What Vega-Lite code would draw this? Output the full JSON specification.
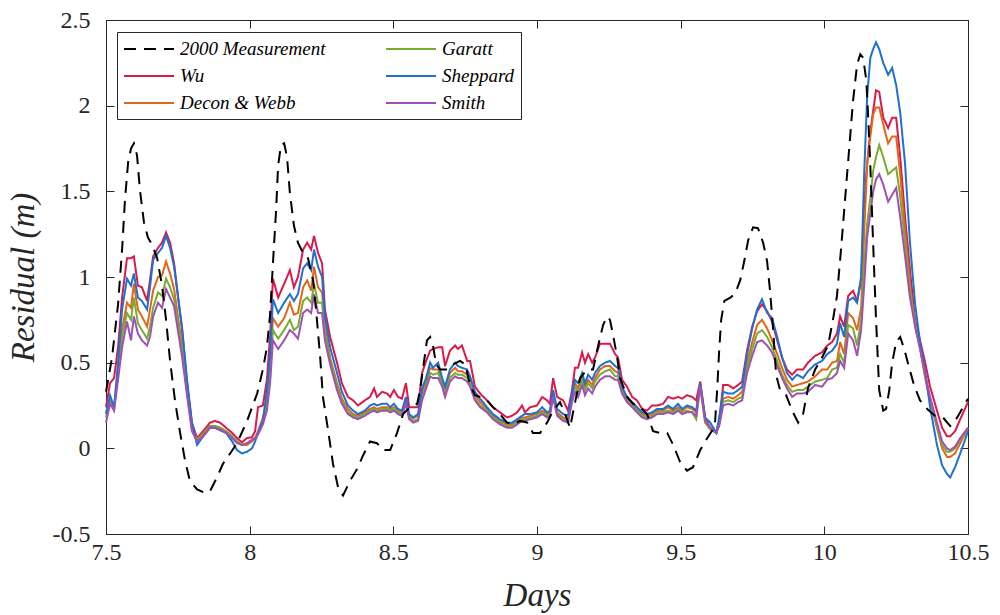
{
"$schema": "https://vega.github.io/schema/vega-lite/v6.json",
"width": 862, "height": 514,
"autosize": {"type": "none"},
"padding": {"left": 106, "top": 20, "right": 32, "bottom": 81},
"background": "white",
"config": {
 "view": {"stroke": "#262626", "strokeWidth": 1},
 "axis": {"grid": false, "domain": false, "tickColor": "#262626", "tickSize": -8, "tickWidth": 1, "labelFlush": false,
  "labelFont": "Liberation Serif", "labelFontSize": 24, "labelColor": "#262626",
  "titleFont": "Liberation Serif", "titleFontSize": 33, "titleFontStyle": "italic", "titleFontWeight": "normal", "titleColor": "#262626"}
},
"datasets": {
 "models": [
  {"day":7.500,"W":0.24,"D":0.21,"G":0.18,"S":0.20,"M":0.15},
  {"day":7.514,"W":0.38,"D":0.28,"G":0.27,"S":0.31,"M":0.26},
  {"day":7.528,"W":0.41,"D":0.23,"G":0.23,"S":0.24,"M":0.22},
  {"day":7.542,"W":0.59,"D":0.46,"G":0.44,"S":0.50,"M":0.40},
  {"day":7.556,"W":0.88,"D":0.69,"G":0.65,"S":0.81,"M":0.59},
  {"day":7.573,"W":1.11,"D":0.85,"G":0.79,"S":0.99,"M":0.74},
  {"day":7.587,"W":1.11,"D":0.82,"G":0.75,"S":0.95,"M":0.63},
  {"day":7.597,"W":1.12,"D":0.96,"G":0.88,"S":1.02,"M":0.77},
  {"day":7.611,"W":0.95,"D":0.81,"G":0.73,"S":0.88,"M":0.67},
  {"day":7.625,"W":0.94,"D":0.77,"G":0.69,"S":0.86,"M":0.63},
  {"day":7.643,"W":0.86,"D":0.71,"G":0.64,"S":0.81,"M":0.60},
  {"day":7.653,"W":0.98,"D":0.81,"G":0.71,"S":0.94,"M":0.65},
  {"day":7.664,"W":1.12,"D":0.92,"G":0.82,"S":1.10,"M":0.77},
  {"day":7.681,"W":1.17,"D":1.00,"G":0.91,"S":1.14,"M":0.85},
  {"day":7.695,"W":1.20,"D":1.01,"G":0.89,"S":1.17,"M":0.82},
  {"day":7.709,"W":1.26,"D":1.09,"G":0.99,"S":1.24,"M":0.93},
  {"day":7.723,"W":1.20,"D":1.02,"G":0.94,"S":1.17,"M":0.88},
  {"day":7.737,"W":1.08,"D":0.93,"G":0.87,"S":1.06,"M":0.83},
  {"day":7.751,"W":0.88,"D":0.76,"G":0.72,"S":0.88,"M":0.68},
  {"day":7.765,"W":0.69,"D":0.60,"G":0.57,"S":0.70,"M":0.53},
  {"day":7.782,"W":0.38,"D":0.36,"G":0.33,"S":0.40,"M":0.31},
  {"day":7.799,"W":0.15,"D":0.12,"G":0.11,"S":0.15,"M":0.10},
  {"day":7.817,"W":0.06,"D":0.05,"G":0.05,"S":0.02,"M":0.04},
  {"day":7.838,"W":0.10,"D":0.09,"G":0.08,"S":0.07,"M":0.07},
  {"day":7.862,"W":0.15,"D":0.13,"G":0.13,"S":0.12,"M":0.12},
  {"day":7.879,"W":0.16,"D":0.13,"G":0.13,"S":0.12,"M":0.12},
  {"day":7.897,"W":0.15,"D":0.12,"G":0.12,"S":0.105,"M":0.11},
  {"day":7.918,"W":0.12,"D":0.10,"G":0.10,"S":0.09,"M":0.09},
  {"day":7.939,"W":0.09,"D":0.07,"G":0.07,"S":0.04,"M":0.06},
  {"day":7.956,"W":0.06,"D":0.04,"G":0.04,"S":-0.01,"M":0.03},
  {"day":7.973,"W":0.035,"D":0.02,"G":0.02,"S":-0.03,"M":0.02},
  {"day":7.991,"W":0.06,"D":0.02,"G":0.03,"S":-0.02,"M":0.03},
  {"day":8.008,"W":0.065,"D":0.04,"G":0.05,"S":0.00,"M":0.05},
  {"day":8.019,"W":0.10,"D":0.06,"G":0.06,"S":0.04,"M":0.06},
  {"day":8.029,"W":0.24,"D":0.10,"G":0.09,"S":0.09,"M":0.08},
  {"day":8.046,"W":0.25,"D":0.18,"G":0.15,"S":0.16,"M":0.14},
  {"day":8.060,"W":0.40,"D":0.28,"G":0.25,"S":0.34,"M":0.22},
  {"day":8.071,"W":0.65,"D":0.46,"G":0.42,"S":0.55,"M":0.38},
  {"day":8.081,"W":0.99,"D":0.76,"G":0.69,"S":0.87,"M":0.63},
  {"day":8.099,"W":0.88,"D":0.71,"G":0.64,"S":0.79,"M":0.58},
  {"day":8.120,"W":0.96,"D":0.76,"G":0.69,"S":0.85,"M":0.63},
  {"day":8.140,"W":1.04,"D":0.85,"G":0.75,"S":0.90,"M":0.69},
  {"day":8.154,"W":0.94,"D":0.78,"G":0.69,"S":0.86,"M":0.67},
  {"day":8.168,"W":1.00,"D":0.79,"G":0.71,"S":0.90,"M":0.64},
  {"day":8.186,"W":1.16,"D":0.94,"G":0.86,"S":1.05,"M":0.79},
  {"day":8.200,"W":1.20,"D":0.98,"G":0.88,"S":1.08,"M":0.81},
  {"day":8.214,"W":1.16,"D":0.92,"G":0.85,"S":1.04,"M":0.79},
  {"day":8.224,"W":1.24,"D":1.06,"G":0.96,"S":1.16,"M":0.90},
  {"day":8.238,"W":1.14,"D":0.94,"G":0.85,"S":1.06,"M":0.79},
  {"day":8.252,"W":1.08,"D":0.91,"G":0.85,"S":1.00,"M":0.79},
  {"day":8.262,"W":0.81,"D":0.71,"G":0.67,"S":0.77,"M":0.63},
  {"day":8.280,"W":0.65,"D":0.53,"G":0.51,"S":0.59,"M":0.49},
  {"day":8.304,"W":0.50,"D":0.38,"G":0.36,"S":0.44,"M":0.34},
  {"day":8.321,"W":0.38,"D":0.29,"G":0.27,"S":0.33,"M":0.26},
  {"day":8.342,"W":0.30,"D":0.23,"G":0.21,"S":0.25,"M":0.20},
  {"day":8.360,"W":0.28,"D":0.20,"G":0.19,"S":0.22,"M":0.18},
  {"day":8.377,"W":0.25,"D":0.19,"G":0.18,"S":0.20,"M":0.17},
  {"day":8.401,"W":0.28,"D":0.21,"G":0.20,"S":0.22,"M":0.19},
  {"day":8.419,"W":0.30,"D":0.23,"G":0.22,"S":0.25,"M":0.21},
  {"day":8.433,"W":0.35,"D":0.24,"G":0.23,"S":0.26,"M":0.22},
  {"day":8.443,"W":0.30,"D":0.23,"G":0.22,"S":0.25,"M":0.21},
  {"day":8.461,"W":0.33,"D":0.24,"G":0.23,"S":0.26,"M":0.22},
  {"day":8.478,"W":0.32,"D":0.24,"G":0.23,"S":0.26,"M":0.22},
  {"day":8.489,"W":0.30,"D":0.23,"G":0.22,"S":0.24,"M":0.21},
  {"day":8.502,"W":0.34,"D":0.24,"G":0.23,"S":0.26,"M":0.22},
  {"day":8.516,"W":0.30,"D":0.22,"G":0.21,"S":0.23,"M":0.20},
  {"day":8.530,"W":0.29,"D":0.21,"G":0.20,"S":0.22,"M":0.19},
  {"day":8.544,"W":0.38,"D":0.28,"G":0.27,"S":0.30,"M":0.26},
  {"day":8.555,"W":0.24,"D":0.19,"G":0.18,"S":0.20,"M":0.17},
  {"day":8.569,"W":0.24,"D":0.175,"G":0.16,"S":0.18,"M":0.15},
  {"day":8.586,"W":0.24,"D":0.19,"G":0.17,"S":0.20,"M":0.16},
  {"day":8.600,"W":0.44,"D":0.32,"G":0.30,"S":0.35,"M":0.28},
  {"day":8.614,"W":0.51,"D":0.39,"G":0.37,"S":0.41,"M":0.35},
  {"day":8.628,"W":0.57,"D":0.47,"G":0.44,"S":0.50,"M":0.42},
  {"day":8.638,"W":0.58,"D":0.46,"G":0.43,"S":0.47,"M":0.41},
  {"day":8.656,"W":0.59,"D":0.46,"G":0.44,"S":0.50,"M":0.41},
  {"day":8.670,"W":0.59,"D":0.40,"G":0.38,"S":0.41,"M":0.36},
  {"day":8.680,"W":0.48,"D":0.34,"G":0.32,"S":0.36,"M":0.30},
  {"day":8.697,"W":0.57,"D":0.44,"G":0.41,"S":0.46,"M":0.39},
  {"day":8.715,"W":0.60,"D":0.47,"G":0.44,"S":0.50,"M":0.42},
  {"day":8.725,"W":0.58,"D":0.45,"G":0.43,"S":0.48,"M":0.41},
  {"day":8.739,"W":0.60,"D":0.45,"G":0.43,"S":0.47,"M":0.41},
  {"day":8.757,"W":0.51,"D":0.43,"G":0.41,"S":0.46,"M":0.39},
  {"day":8.767,"W":0.51,"D":0.40,"G":0.38,"S":0.42,"M":0.36},
  {"day":8.784,"W":0.36,"D":0.31,"G":0.29,"S":0.33,"M":0.28},
  {"day":8.802,"W":0.32,"D":0.27,"G":0.25,"S":0.29,"M":0.24},
  {"day":8.826,"W":0.28,"D":0.23,"G":0.22,"S":0.24,"M":0.21},
  {"day":8.847,"W":0.24,"D":0.19,"G":0.18,"S":0.20,"M":0.17},
  {"day":8.871,"W":0.21,"D":0.16,"G":0.15,"S":0.17,"M":0.14},
  {"day":8.896,"W":0.18,"D":0.14,"G":0.13,"S":0.15,"M":0.12},
  {"day":8.913,"W":0.19,"D":0.14,"G":0.13,"S":0.15,"M":0.12},
  {"day":8.931,"W":0.21,"D":0.16,"G":0.15,"S":0.17,"M":0.14},
  {"day":8.948,"W":0.25,"D":0.18,"G":0.17,"S":0.19,"M":0.16},
  {"day":8.958,"W":0.21,"D":0.18,"G":0.17,"S":0.20,"M":0.16},
  {"day":8.976,"W":0.24,"D":0.19,"G":0.18,"S":0.20,"M":0.17},
  {"day":9.000,"W":0.25,"D":0.20,"G":0.19,"S":0.21,"M":0.18},
  {"day":9.018,"W":0.30,"D":0.22,"G":0.21,"S":0.24,"M":0.20},
  {"day":9.035,"W":0.28,"D":0.20,"G":0.19,"S":0.21,"M":0.18},
  {"day":9.045,"W":0.26,"D":0.21,"G":0.20,"S":0.22,"M":0.19},
  {"day":9.056,"W":0.41,"D":0.32,"G":0.31,"S":0.34,"M":0.30},
  {"day":9.070,"W":0.30,"D":0.21,"G":0.20,"S":0.23,"M":0.19},
  {"day":9.091,"W":0.28,"D":0.18,"G":0.17,"S":0.20,"M":0.16},
  {"day":9.108,"W":0.22,"D":0.17,"G":0.16,"S":0.19,"M":0.15},
  {"day":9.122,"W":0.34,"D":0.30,"G":0.28,"S":0.32,"M":0.27},
  {"day":9.132,"W":0.47,"D":0.38,"G":0.36,"S":0.40,"M":0.33},
  {"day":9.143,"W":0.47,"D":0.35,"G":0.33,"S":0.38,"M":0.30},
  {"day":9.157,"W":0.56,"D":0.42,"G":0.40,"S":0.44,"M":0.37},
  {"day":9.167,"W":0.50,"D":0.36,"G":0.34,"S":0.38,"M":0.31},
  {"day":9.178,"W":0.55,"D":0.40,"G":0.38,"S":0.43,"M":0.35},
  {"day":9.192,"W":0.50,"D":0.37,"G":0.35,"S":0.40,"M":0.32},
  {"day":9.202,"W":0.53,"D":0.41,"G":0.39,"S":0.44,"M":0.36},
  {"day":9.219,"W":0.61,"D":0.46,"G":0.43,"S":0.48,"M":0.40},
  {"day":9.237,"W":0.61,"D":0.48,"G":0.45,"S":0.50,"M":0.42},
  {"day":9.254,"W":0.61,"D":0.48,"G":0.46,"S":0.51,"M":0.42},
  {"day":9.272,"W":0.55,"D":0.45,"G":0.42,"S":0.48,"M":0.40},
  {"day":9.282,"W":0.53,"D":0.44,"G":0.42,"S":0.47,"M":0.40},
  {"day":9.296,"W":0.40,"D":0.34,"G":0.33,"S":0.36,"M":0.32},
  {"day":9.313,"W":0.36,"D":0.29,"G":0.28,"S":0.30,"M":0.27},
  {"day":9.331,"W":0.30,"D":0.26,"G":0.25,"S":0.27,"M":0.24},
  {"day":9.348,"W":0.28,"D":0.23,"G":0.22,"S":0.24,"M":0.21},
  {"day":9.366,"W":0.23,"D":0.20,"G":0.19,"S":0.21,"M":0.18},
  {"day":9.383,"W":0.22,"D":0.19,"G":0.18,"S":0.20,"M":0.17},
  {"day":9.400,"W":0.25,"D":0.20,"G":0.19,"S":0.21,"M":0.18},
  {"day":9.418,"W":0.25,"D":0.22,"G":0.21,"S":0.23,"M":0.20},
  {"day":9.439,"W":0.26,"D":0.22,"G":0.21,"S":0.23,"M":0.20},
  {"day":9.456,"W":0.30,"D":0.24,"G":0.22,"S":0.25,"M":0.21},
  {"day":9.474,"W":0.29,"D":0.22,"G":0.21,"S":0.23,"M":0.20},
  {"day":9.491,"W":0.30,"D":0.24,"G":0.23,"S":0.26,"M":0.22},
  {"day":9.505,"W":0.29,"D":0.22,"G":0.21,"S":0.23,"M":0.20},
  {"day":9.522,"W":0.31,"D":0.24,"G":0.22,"S":0.25,"M":0.21},
  {"day":9.540,"W":0.30,"D":0.23,"G":0.21,"S":0.24,"M":0.21},
  {"day":9.554,"W":0.28,"D":0.21,"G":0.17,"S":0.22,"M":0.19},
  {"day":9.568,"W":0.39,"D":0.37,"G":0.36,"S":0.38,"M":0.37},
  {"day":9.585,"W":0.18,"D":0.17,"G":0.15,"S":0.18,"M":0.16},
  {"day":9.603,"W":0.12,"D":0.12,"G":0.11,"S":0.15,"M":0.12},
  {"day":9.624,"W":0.09,"D":0.09,"G":0.09,"S":0.09,"M":0.09},
  {"day":9.634,"W":0.16,"D":0.15,"G":0.14,"S":0.18,"M":0.13},
  {"day":9.648,"W":0.37,"D":0.29,"G":0.27,"S":0.33,"M":0.25},
  {"day":9.665,"W":0.37,"D":0.30,"G":0.28,"S":0.32,"M":0.26},
  {"day":9.683,"W":0.35,"D":0.29,"G":0.27,"S":0.32,"M":0.25},
  {"day":9.700,"W":0.37,"D":0.31,"G":0.29,"S":0.34,"M":0.27},
  {"day":9.714,"W":0.39,"D":0.33,"G":0.30,"S":0.36,"M":0.28},
  {"day":9.731,"W":0.57,"D":0.50,"G":0.47,"S":0.55,"M":0.44},
  {"day":9.749,"W":0.71,"D":0.62,"G":0.58,"S":0.70,"M":0.54},
  {"day":9.766,"W":0.80,"D":0.72,"G":0.67,"S":0.81,"M":0.62},
  {"day":9.783,"W":0.84,"D":0.75,"G":0.69,"S":0.87,"M":0.63},
  {"day":9.801,"W":0.80,"D":0.70,"G":0.65,"S":0.79,"M":0.60},
  {"day":9.818,"W":0.74,"D":0.63,"G":0.59,"S":0.76,"M":0.56},
  {"day":9.836,"W":0.63,"D":0.55,"G":0.51,"S":0.65,"M":0.48},
  {"day":9.853,"W":0.53,"D":0.47,"G":0.43,"S":0.53,"M":0.41},
  {"day":9.870,"W":0.46,"D":0.40,"G":0.37,"S":0.44,"M":0.35},
  {"day":9.888,"W":0.43,"D":0.36,"G":0.33,"S":0.40,"M":0.30},
  {"day":9.905,"W":0.46,"D":0.37,"G":0.34,"S":0.43,"M":0.32},
  {"day":9.926,"W":0.46,"D":0.38,"G":0.34,"S":0.41,"M":0.32},
  {"day":9.943,"W":0.50,"D":0.39,"G":0.36,"S":0.45,"M":0.33},
  {"day":9.968,"W":0.54,"D":0.42,"G":0.39,"S":0.49,"M":0.37},
  {"day":9.992,"W":0.56,"D":0.46,"G":0.40,"S":0.51,"M":0.36},
  {"day":10.010,"W":0.60,"D":0.46,"G":0.41,"S":0.55,"M":0.40},
  {"day":10.027,"W":0.62,"D":0.50,"G":0.46,"S":0.57,"M":0.41},
  {"day":10.044,"W":0.67,"D":0.51,"G":0.47,"S":0.61,"M":0.44},
  {"day":10.055,"W":0.77,"D":0.62,"G":0.55,"S":0.73,"M":0.51},
  {"day":10.069,"W":0.71,"D":0.55,"G":0.50,"S":0.65,"M":0.47},
  {"day":10.083,"W":0.89,"D":0.79,"G":0.72,"S":0.86,"M":0.67},
  {"day":10.100,"W":0.92,"D":0.76,"G":0.70,"S":0.88,"M":0.63},
  {"day":10.114,"W":0.86,"D":0.69,"G":0.60,"S":0.85,"M":0.54},
  {"day":10.128,"W":0.98,"D":0.82,"G":0.75,"S":1.00,"M":0.69},
  {"day":10.139,"W":1.42,"D":1.27,"G":1.08,"S":1.62,"M":0.96},
  {"day":10.149,"W":1.66,"D":1.66,"G":1.31,"S":2.05,"M":1.23},
  {"day":10.160,"W":1.85,"D":1.82,"G":1.46,"S":2.28,"M":1.37},
  {"day":10.170,"W":1.97,"D":1.95,"G":1.62,"S":2.33,"M":1.50},
  {"day":10.180,"W":2.09,"D":1.99,"G":1.70,"S":2.37,"M":1.57},
  {"day":10.191,"W":2.08,"D":1.99,"G":1.77,"S":2.33,"M":1.60},
  {"day":10.205,"W":1.93,"D":1.89,"G":1.70,"S":2.25,"M":1.54},
  {"day":10.222,"W":1.87,"D":1.78,"G":1.60,"S":2.18,"M":1.44},
  {"day":10.236,"W":1.93,"D":1.82,"G":1.62,"S":2.22,"M":1.48},
  {"day":10.250,"W":1.93,"D":1.82,"G":1.64,"S":2.12,"M":1.52},
  {"day":10.264,"W":1.70,"D":1.60,"G":1.47,"S":1.96,"M":1.35},
  {"day":10.281,"W":1.35,"D":1.27,"G":1.20,"S":1.66,"M":1.12},
  {"day":10.298,"W":1.04,"D":0.96,"G":0.92,"S":1.20,"M":0.88},
  {"day":10.316,"W":0.75,"D":0.71,"G":0.73,"S":0.84,"M":0.71},
  {"day":10.333,"W":0.63,"D":0.59,"G":0.59,"S":0.62,"M":0.58},
  {"day":10.351,"W":0.50,"D":0.41,"G":0.42,"S":0.45,"M":0.43},
  {"day":10.368,"W":0.36,"D":0.28,"G":0.29,"S":0.24,"M":0.30},
  {"day":10.392,"W":0.22,"D":0.12,"G":0.13,"S":0.02,"M":0.15},
  {"day":10.410,"W":0.12,"D":0.00,"G":0.02,"S":-0.10,"M":0.04},
  {"day":10.427,"W":0.07,"D":-0.05,"G":-0.02,"S":-0.15,"M":0.00},
  {"day":10.438,"W":0.07,"D":-0.05,"G":-0.02,"S":-0.17,"M":-0.01},
  {"day":10.455,"W":0.10,"D":-0.03,"G":0.00,"S":-0.11,"M":0.01},
  {"day":10.473,"W":0.17,"D":0.03,"G":0.05,"S":-0.03,"M":0.06},
  {"day":10.500,"W":0.27,"D":0.12,"G":0.12,"S":0.10,"M":0.12}
 ],
 "meas": [
  {"day":7.500,"X":0.33},{"day":7.521,"X":0.53},{"day":7.542,"X":0.84},{"day":7.556,"X":1.16},{"day":7.566,"X":1.45},
  {"day":7.577,"X":1.67},{"day":7.587,"X":1.75},{"day":7.597,"X":1.78},{"day":7.608,"X":1.71},{"day":7.618,"X":1.51},
  {"day":7.632,"X":1.32},{"day":7.646,"X":1.23},{"day":7.660,"X":1.19},{"day":7.678,"X":1.11},{"day":7.695,"X":0.95},
  {"day":7.709,"X":0.75},{"day":7.723,"X":0.51},{"day":7.740,"X":0.28},{"day":7.758,"X":0.09},{"day":7.775,"X":-0.07},
  {"day":7.792,"X":-0.19},{"day":7.817,"X":-0.24},{"day":7.845,"X":-0.26},{"day":7.862,"X":-0.25},{"day":7.886,"X":-0.17},
  {"day":7.907,"X":-0.09},{"day":7.932,"X":-0.03},{"day":7.956,"X":0.03},{"day":7.991,"X":0.16},{"day":8.026,"X":0.32},
  {"day":8.046,"X":0.46},{"day":8.060,"X":0.59},{"day":8.071,"X":0.78},{"day":8.081,"X":1.08},{"day":8.092,"X":1.39},
  {"day":8.099,"X":1.65},{"day":8.109,"X":1.77},{"day":8.120,"X":1.78},{"day":8.130,"X":1.70},{"day":8.140,"X":1.49},
  {"day":8.154,"X":1.30},{"day":8.168,"X":1.20},{"day":8.186,"X":1.14},{"day":8.203,"X":1.11},{"day":8.221,"X":0.98},
  {"day":8.231,"X":0.81},{"day":8.245,"X":0.54},{"day":8.255,"X":0.30},{"day":8.273,"X":0.105},{"day":8.290,"X":-0.09},
  {"day":8.308,"X":-0.23},{"day":8.325,"X":-0.275},{"day":8.349,"X":-0.19},{"day":8.374,"X":-0.12},{"day":8.395,"X":-0.04},
  {"day":8.419,"X":0.04},{"day":8.443,"X":0.03},{"day":8.464,"X":-0.01},{"day":8.489,"X":-0.01},{"day":8.513,"X":0.09},
  {"day":8.534,"X":0.20},{"day":8.558,"X":0.24},{"day":8.583,"X":0.26},{"day":8.593,"X":0.34},{"day":8.603,"X":0.46},
  {"day":8.617,"X":0.63},{"day":8.628,"X":0.65},{"day":8.638,"X":0.60},{"day":8.649,"X":0.49},{"day":8.663,"X":0.46},
  {"day":8.687,"X":0.46},{"day":8.708,"X":0.49},{"day":8.732,"X":0.51},{"day":8.750,"X":0.49},{"day":8.767,"X":0.37},
  {"day":8.784,"X":0.31},{"day":8.802,"X":0.30},{"day":8.826,"X":0.28},{"day":8.847,"X":0.24},{"day":8.871,"X":0.20},
  {"day":8.896,"X":0.15},{"day":8.917,"X":0.14},{"day":8.941,"X":0.16},{"day":8.966,"X":0.15},{"day":8.986,"X":0.09},
  {"day":9.011,"X":0.09},{"day":9.035,"X":0.15},{"day":9.056,"X":0.22},{"day":9.080,"X":0.27},{"day":9.098,"X":0.20},
  {"day":9.115,"X":0.12},{"day":9.129,"X":0.24},{"day":9.150,"X":0.41},{"day":9.174,"X":0.46},{"day":9.195,"X":0.46},
  {"day":9.213,"X":0.60},{"day":9.230,"X":0.72},{"day":9.244,"X":0.77},{"day":9.254,"X":0.75},{"day":9.265,"X":0.66},
  {"day":9.279,"X":0.53},{"day":9.289,"X":0.41},{"day":9.314,"X":0.30},{"day":9.334,"X":0.26},{"day":9.359,"X":0.24},
  {"day":9.383,"X":0.20},{"day":9.404,"X":0.10},{"day":9.428,"X":0.09},{"day":9.453,"X":0.09},{"day":9.474,"X":0.02},
  {"day":9.498,"X":-0.08},{"day":9.522,"X":-0.13},{"day":9.543,"X":-0.11},{"day":9.568,"X":-0.01},{"day":9.589,"X":0.05},
  {"day":9.610,"X":0.105},{"day":9.620,"X":0.16},{"day":9.627,"X":0.34},{"day":9.634,"X":0.57},{"day":9.641,"X":0.75},
  {"day":9.652,"X":0.86},{"day":9.673,"X":0.88},{"day":9.690,"X":0.905},{"day":9.707,"X":0.98},{"day":9.721,"X":1.09},
  {"day":9.735,"X":1.215},{"day":9.752,"X":1.29},{"day":9.769,"X":1.285},{"day":9.787,"X":1.20},{"day":9.801,"X":1.09},
  {"day":9.811,"X":0.92},{"day":9.822,"X":0.69},{"day":9.832,"X":0.43},{"day":9.846,"X":0.34},{"day":9.867,"X":0.31},
  {"day":9.888,"X":0.22},{"day":9.909,"X":0.15},{"day":9.926,"X":0.20},{"day":9.943,"X":0.35},{"day":9.968,"X":0.46},
  {"day":9.992,"X":0.53},{"day":10.013,"X":0.60},{"day":10.030,"X":0.75},{"day":10.044,"X":0.89},{"day":10.058,"X":1.16},
  {"day":10.072,"X":1.45},{"day":10.086,"X":1.74},{"day":10.100,"X":2.03},{"day":10.114,"X":2.24},{"day":10.125,"X":2.30},
  {"day":10.135,"X":2.28},{"day":10.146,"X":2.15},{"day":10.153,"X":1.92},{"day":10.160,"X":1.65},{"day":10.170,"X":1.19},
  {"day":10.180,"X":0.75},{"day":10.191,"X":0.34},{"day":10.205,"X":0.22},{"day":10.215,"X":0.23},{"day":10.226,"X":0.34},
  {"day":10.236,"X":0.50},{"day":10.250,"X":0.62},{"day":10.264,"X":0.65},{"day":10.278,"X":0.58},{"day":10.292,"X":0.49},
  {"day":10.312,"X":0.37},{"day":10.333,"X":0.28},{"day":10.358,"X":0.23},{"day":10.385,"X":0.19},{"day":10.413,"X":0.18},
  {"day":10.438,"X":0.13},{"day":10.455,"X":0.16},{"day":10.476,"X":0.22},{"day":10.500,"X":0.29}
 ]
},
"resolve": {"axis": {"x": "independent", "y": "independent"}},
"layer": [
 {
  "data": {"name": "models"},
  "transform": [{"fold": ["W", "D", "G", "S", "M"], "as": ["s", "v"]}],
  "mark": {"type": "line", "strokeWidth": 2},
  "encoding": {
   "x": {"field": "day", "type": "quantitative", "scale": {"domain": [7.5, 10.5], "nice": false, "zero": false},
    "axis": {"orient": "bottom", "values": [7.5, 8, 8.5, 9, 9.5, 10, 10.5], "format": ".1~f", "title": "Days", "labelPadding": 14, "titlePadding": 15}},
   "y": {"field": "v", "type": "quantitative", "scale": {"domain": [-0.5, 2.5], "nice": false, "zero": false},
    "axis": {"orient": "left", "values": [-0.5, 0, 0.5, 1, 1.5, 2, 2.5], "labelExpr": "datum.value < 0 ? '-0.5' : format(datum.value, '~g')", "title": "Residual (m)", "labelPadding": 24, "titlePadding": 12}},
   "color": {"field": "s", "type": "nominal",
    "scale": {"domain": ["X", "W", "D", "G", "S", "M"], "range": ["#000000", "#D91A4A", "#E0661A", "#77AC30", "#2070D0", "#A050B4"]},
    "legend": {"title": null, "orient": "none", "legendX": 11, "legendY": 12, "columns": 2, "direction": "vertical", "symbolType": "M-1,0H4", "symbolSize": 400, "symbolStrokeWidth": 2,
     "labelFont": "Liberation Serif", "labelFontSize": 19, "labelFontStyle": "italic", "labelColor": "#000000", "labelLimit": 400,
     "strokeColor": "#262626", "fillColor": "white", "padding": 6, "rowPadding": 6, "columnPadding": 56, "labelOffset": 35,
     "labelExpr": "datum.label == 'X' ? '2000 Measurement' : datum.label == 'W' ? 'Wu' : datum.label == 'D' ? 'Decon & Webb' : datum.label == 'G' ? 'Garatt' : datum.label == 'S' ? 'Sheppard' : 'Smith'"}},
   "strokeDash": {"field": "s", "type": "nominal",
    "scale": {"domain": ["X", "W", "D", "G", "S", "M"], "range": [[12, 8], [1, 0], [1, 0], [1, 0], [1, 0], [1, 0]]},
    "legend": {"title": null, "orient": "none", "legendX": 11, "legendY": 12, "columns": 2, "direction": "vertical", "symbolType": "M-1,0H4", "symbolSize": 400, "symbolStrokeWidth": 2,
     "labelFont": "Liberation Serif", "labelFontSize": 19, "labelFontStyle": "italic", "labelColor": "#000000", "labelLimit": 400,
     "strokeColor": "#262626", "fillColor": "white", "padding": 6, "rowPadding": 6, "columnPadding": 56, "labelOffset": 35,
     "labelExpr": "datum.label == 'X' ? '2000 Measurement' : datum.label == 'W' ? 'Wu' : datum.label == 'D' ? 'Decon & Webb' : datum.label == 'G' ? 'Garatt' : datum.label == 'S' ? 'Sheppard' : 'Smith'"}}
  }
 },
 {
  "data": {"name": "meas"},
  "transform": [{"fold": ["X"], "as": ["s", "v"]}],
  "mark": {"type": "line", "strokeWidth": 2},
  "encoding": {
   "x": {"field": "day", "type": "quantitative", "axis": {"orient": "top", "values": [7.5, 8, 8.5, 9, 9.5, 10, 10.5], "labels": false, "title": null}},
   "y": {"field": "v", "type": "quantitative", "axis": {"orient": "right", "values": [-0.5, 0, 0.5, 1, 1.5, 2, 2.5], "labels": false, "title": null}},
   "color": {"field": "s", "type": "nominal"},
   "strokeDash": {"field": "s", "type": "nominal"}
  }
 }
]
}
